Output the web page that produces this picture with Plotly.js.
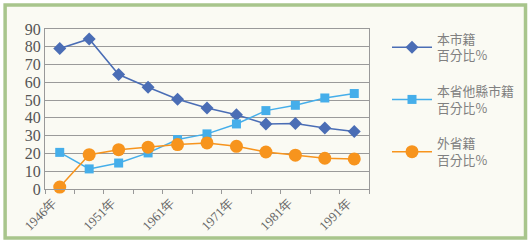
<!DOCTYPE html>
<html><head><meta charset="utf-8">
<script src="https://cdn.plot.ly/plotly-3.0.1.min.js"></script>
<style>html,body{margin:0;padding:0;background:#fff;}#chart{width:530px;height:242px;}</style>
</head><body><div id="chart"></div>
<script>
// Data (percent)
const tickLabels = ["1946年", "1951年", "1961年", "1971年", "1981年", "1991年"];
const seriesNames = ["本市籍<br>百分比%", "本省他縣市籍<br>百分比%", "外省籍<br>百分比%"];
const localCity = [79, 84.4, 64.4, 57.2, 50.5, 45.6, 41.8, 36.6, 36.8, 34.3, 32.3];
const otherCounty = [20.6, 11.3, 14.6, 20.3, 27.8, 31, 36.6, 44.1, 47.1, 51.2, 53.7];
const otherProvince = [1.1, 19.3, 22.1, 23.5, 25, 25.9, 24, 20.8, 19, 17.3, 16.9];

const n = localCity.length;
const xs = localCity.map((_, i) => i + 0.5);
const tickMarks = [];
for (let i = 0; i <= n; i++) tickMarks.push(i);
const labelShift = 0.27;
const labelVals = tickLabels.map((_, k) => 2 * k + labelShift);

const colors = ["#4a6db5", "#45aeea", "#f7941d"];
const symbols = ["diamond", "square", "circle"];
const sizes = [10, 9, 13];
const allSeries = [localCity, otherCounty, otherProvince];

const traces = allSeries.map((ys, k) => ({
  x: xs, y: ys, type: "scatter", mode: "lines+markers",
  name: seriesNames[k], legendgroup: "g" + k,
  line: {color: colors[k], width: 1.5},
  marker: {color: colors[k], symbol: symbols[k], size: sizes[k]},
  cliponaxis: false
}));

const L = 45, R = 370, T = 29, B = 189, W = 530, H = 242;
const px = v => (v - L) / (R - L);
const py = v => (B - v) / (B - T);
const serif = "'Liberation Serif', 'Times New Roman', 'DejaVu Serif', serif";

const layout = {
  width: W, height: H,
  margin: {l: L, r: W - R, t: T, b: H - B},
  paper_bgcolor: "#ffffff",
  plot_bgcolor: "rgba(0,0,0,0)",
  showlegend: true,
  legend: {
    x: px(387), y: py(24), xanchor: "left", yanchor: "top",
    bgcolor: "rgba(0,0,0,0)", maxheight: 400, itemwidth: 40,
    font: {family: "'Noto Sans CJK TC', sans-serif", size: 12.8, color: "#808080"},
    tracegroupgap: 16, valign: "middle"
  },
  xaxis: {
    range: [0, n], tickmode: "array", tickvals: labelVals, ticktext: tickLabels,
    tickangle: -45, ticks: "", automargin: false,
    showgrid: false, zeroline: false, showline: true, mirror: true,
    linecolor: "#999", linewidth: 1,
    tickfont: {family: serif, size: 13, color: "#666"}
  },
  xaxis2: {
    overlaying: "x", anchor: "y", side: "bottom", matches: "x",
    range: [0, n], tickmode: "array", tickvals: tickMarks,
    showticklabels: false, ticks: "outside", ticklen: 4, tickcolor: "#999",
    showgrid: false, zeroline: false, showline: false
  },
  yaxis: {
    range: [0, 90], dtick: 10, tick0: 0, ticks: "", automargin: false,
    showgrid: true, gridcolor: "#9a9a9a", gridwidth: 1,
    zeroline: false, showline: true, mirror: true,
    linecolor: "#999", linewidth: 1,
    tickfont: {family: serif, size: 16, color: "#555"}
  },
  shapes: [{
    type: "rect", xref: "paper", yref: "paper", layer: "below",
    x0: px(5), x1: px(527), y0: py(238), y1: py(5),
    line: {color: "#a8c58c", width: 3.5}, fillcolor: "#fafaf3"
  }]
};

// invisible helper trace so the tick-mark axis is drawn
traces.push({x: [0], y: [0], xaxis: "x2", yaxis: "y", mode: "markers",
  marker: {opacity: 0}, showlegend: false, hoverinfo: "skip"});

Plotly.newPlot("chart", traces, layout, {displayModeBar: false, staticPlot: true});
</script></body></html>
